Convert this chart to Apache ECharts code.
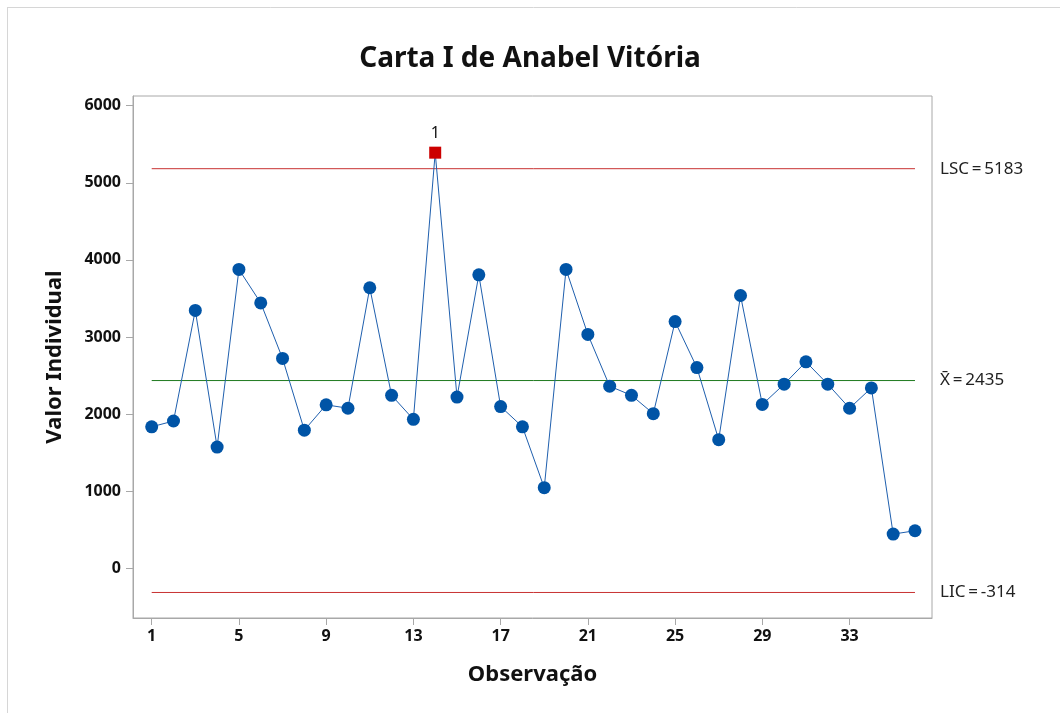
<!DOCTYPE html>
<html>
<head>
<meta charset="utf-8">
<script src="https://cdn.jsdelivr.net/npm/echarts@6/dist/echarts.min.js"></script>
<style>
  html, body { margin: 0; padding: 0; background: #fff; }
  #chart { width: 1060px; height: 713px; }
</style>
</head>
<body>
<div id="chart"></div>
<script>
var chart = echarts.init(document.getElementById('chart'));

// observations and individual values
var obs = [];
for (var i = 1; i <= 36; i++) obs.push(i);
var values = [1835, 1910, 3345, 1572, 3876, 3442, 2722, 1791, 2120, 2076,
              3639, 2243, 1932, 5391, 2221, 3806, 2098, 1835, 1045, 3876,
              3033, 2362, 2243, 2006, 3200, 2603, 1668, 3538, 2125, 2388,
              2678, 2388, 2076, 2340, 443, 487];
var outOfControl = [14];
var lsc = 5183;
var media = 2435;
var lic = -314;
var xTicks = [1, 5, 9, 13, 17, 21, 25, 29, 33];
var yTicks = [0, 1000, 2000, 3000, 4000, 5000, 6000];

var font = 'Noto Sans';
var eq = '\u2009=\u2009';

var pts = obs.map(function (o, i) {
  var item = { value: [o, values[i]] };
  if (outOfControl.indexOf(o) >= 0) {
    item.symbol = 'rect';
    item.symbolSize = 12;
    item.itemStyle = { color: '#cc0000' };
    item.label = {
      show: true, position: 'top', distance: 5, formatter: '1',
      fontSize: 16, color: '#111', fontFamily: font
    };
  }
  return item;
});

function limitLine(val, color, text) {
  return {
    type: 'line',
    silent: true,
    symbol: 'none',
    clip: false,
    lineStyle: { color: color, width: 1 },
    endLabel: {
      show: true, distance: 25, formatter: text,
      fontSize: 17, color: '#222', fontFamily: font
    },
    data: [[obs[0], val], [obs[obs.length - 1], val]],
    z: 1
  };
}

var option = {
  animation: false,
  backgroundColor: '#fff',
  title: {
    text: 'Carta I de Anabel Vitória',
    left: 'center',
    top: 40,
    textStyle: { fontSize: 28, fontWeight: 'bold', color: '#111', fontFamily: font }
  },
  graphic: [
    { type: 'line', shape: { x1: 7.5, y1: 7, x2: 7.5, y2: 713 }, style: { stroke: '#d6d6d6', lineWidth: 1 } },
    { type: 'line', shape: { x1: 7, y1: 7.5, x2: 1060, y2: 7.5 }, style: { stroke: '#d6d6d6', lineWidth: 1 } }
  ],
  grid: {
    left: 133, top: 96, right: 128, bottom: 95,
    show: true, borderColor: '#a8a8a8', borderWidth: 1
  },
  xAxis: {
    type: 'value',
    min: 0.143,
    max: 36.78,
    name: 'Observação',
    nameLocation: 'middle',
    nameGap: 46,
    nameTextStyle: { fontSize: 22, fontWeight: 'bold', color: '#111', fontFamily: font },
    axisLine: { show: true, onZero: false, lineStyle: { color: '#a8a8a8' } },
    axisTick: { show: true, length: 7, customValues: xTicks, lineStyle: { color: '#a8a8a8' } },
    axisLabel: { customValues: xTicks, margin: 10, fontSize: 16, fontWeight: 'bold', color: '#111', fontFamily: font },
    splitLine: { show: false }
  },
  yAxis: {
    type: 'value',
    min: -645,
    max: 6126,
    name: 'Valor Individual',
    nameLocation: 'middle',
    nameGap: 67,
    nameTextStyle: { fontSize: 22, fontWeight: 'bold', color: '#111', fontFamily: font },
    axisLine: { show: true, onZero: false, lineStyle: { color: '#a8a8a8' } },
    axisTick: { show: true, length: 7, customValues: yTicks, lineStyle: { color: '#a8a8a8' } },
    axisLabel: {
      customValues: yTicks, margin: 12, fontSize: 16, fontWeight: 'bold', color: '#111', fontFamily: font,
      formatter: function (v) { return String(v); }
    },
    splitLine: { show: false }
  },
  series: [
    limitLine(lsc, '#c83232', 'LSC' + eq + lsc),
    limitLine(media, '#1f7a1f', 'X\u0304' + eq + media),
    limitLine(lic, '#c83232', 'LIC' + eq + lic),
    {
      type: 'line',
      name: 'Valor Individual',
      data: pts,
      symbol: 'circle',
      symbolSize: 13,
      showAllSymbol: true,
      lineStyle: { color: '#1f5fae', width: 1 },
      itemStyle: { color: '#0054a6' },
      z: 3
    }
  ]
};

chart.setOption(option);
</script>
</body>
</html>
